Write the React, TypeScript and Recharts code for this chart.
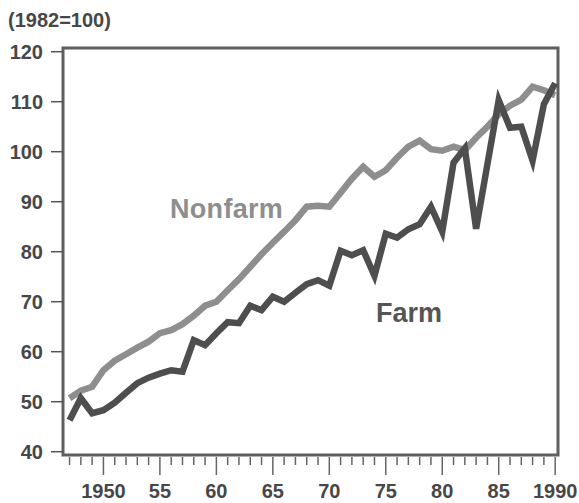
import { LineChart, Line, XAxis, YAxis, ReferenceArea } from 'recharts';

const YEARS = [
  1947, 1948, 1949, 1950, 1951, 1952, 1953, 1954, 1955, 1956, 1957,
  1958, 1959, 1960, 1961, 1962, 1963, 1964, 1965, 1966, 1967, 1968,
  1969, 1970, 1971, 1972, 1973, 1974, 1975, 1976, 1977, 1978, 1979,
  1980, 1981, 1982, 1983, 1984, 1985, 1986, 1987, 1988, 1989, 1990,
];

const FARM = [
  46.3, 50.7, 47.7, 48.3, 49.8, 51.8, 53.7, 54.8, 55.6, 56.3, 56.0,
  62.3, 61.3, 63.7, 65.9, 65.7, 69.2, 68.3, 71.0, 70.0, 71.8, 73.5,
  74.3, 73.2, 80.2, 79.3, 80.3, 75.2, 83.6, 82.8, 84.5, 85.5, 89.0,
  84.0, 97.8, 100.7, 84.6, 97.5, 110.3, 104.8, 105.0, 98.2, 109.5, 113.7,
];

const NONFARM = [
  50.7, 52.2, 53.0, 56.3, 58.2, 59.5, 60.8, 62.0, 63.7, 64.3, 65.5,
  67.2, 69.2, 70.0, 72.3, 74.5, 77.0, 79.5, 81.8, 84.0, 86.3, 89.0,
  89.2, 89.0, 91.8, 94.6, 97.0, 95.0, 96.3, 98.8, 101.0, 102.2, 100.5,
  100.2, 101.0, 100.3, 102.8, 105.0, 107.5, 109.2, 110.4, 113.0, 112.3, 111.3,
];

const Y_TICKS = [40, 50, 60, 70, 80, 90, 100, 110, 120];
const X_LABELS: Record<number, string> = {
  1950: '1950', 1955: '55', 1960: '60', 1965: '65', 1970: '70',
  1975: '75', 1980: '80', 1985: '85', 1990: '1990',
};

const X_DOMAIN: [number, number] = [1946.42, 1990.25];
const Y_DOMAIN: [number, number] = [39.34, 120.74];

const FONT = '"Liberation Sans", Arial, sans-serif';
const TEXT = '#474747';

const data = YEARS.map((year, i) => ({ year, farm: FARM[i], nonfarm: NONFARM[i] }));

// year ticks: short every year, long + label every fifth year
function YearTick({ x, y, payload }: any) {
  const label = X_LABELS[payload.value];
  const major = label !== undefined;
  return (
    <g>
      <line x1={x} x2={x} y1={y + 2} y2={y + (major ? 20 : 10)} stroke="#666" strokeWidth={1.5} />
      {major && (
        <text x={x} y={y + 43} textAnchor="middle" fontFamily={FONT} fontWeight="bold"
          fontSize={20} fill={TEXT}>
          {label}
        </text>
      )}
    </g>
  );
}

export default function App() {
  return (
    <div style={{ position: 'absolute', left: 0, top: 0, width: 579, height: 503, background: '#fff' }}>
      <div style={{ position: 'absolute', left: 8, top: 8, fontFamily: FONT, fontWeight: 'bold',
        fontSize: 20, color: TEXT, lineHeight: '24px' }}>
        (1982=100)
      </div>
      <LineChart width={579} height={503} data={data}
        margin={{ top: 48, right: 21, bottom: 0, left: 0 }}>
        <XAxis dataKey="year" type="number" domain={X_DOMAIN} allowDataOverflow
          ticks={YEARS} interval={0} axisLine={false} tickLine={false}
          tickSize={0} tickMargin={0} height={48} tick={<YearTick />} />
        <YAxis type="number" domain={Y_DOMAIN} allowDataOverflow ticks={Y_TICKS}
          interval={0} width={63} axisLine={false} tickSize={12} tickMargin={8}
          tickLine={{ stroke: '#555', strokeWidth: 1.5 }}
          tick={{ fontFamily: FONT, fontWeight: 'bold', fontSize: 20, fill: TEXT }} />
        <ReferenceArea x1={X_DOMAIN[0]} x2={X_DOMAIN[1]} y1={Y_DOMAIN[0]} y2={Y_DOMAIN[1]}
          fill="none" stroke="#5f5f5f" strokeWidth={3} ifOverflow="visible" />
        <Line dataKey="nonfarm" stroke="#8e8e8e" strokeWidth={6.5} dot={false}
          isAnimationActive={false} />
        <Line dataKey="farm" stroke="#4e4e4e" strokeWidth={6.5} dot={false}
          isAnimationActive={false} />
      </LineChart>
      <div style={{ position: 'absolute', left: 170, top: 194, fontFamily: FONT, fontWeight: 'bold',
        fontSize: 27, color: '#8e8e8e', letterSpacing: 0.3, lineHeight: '30px' }}>
        Nonfarm
      </div>
      <div style={{ position: 'absolute', left: 376, top: 298, fontFamily: FONT, fontWeight: 'bold',
        fontSize: 27, color: '#555', lineHeight: '30px' }}>
        Farm
      </div>
    </div>
  );
}
